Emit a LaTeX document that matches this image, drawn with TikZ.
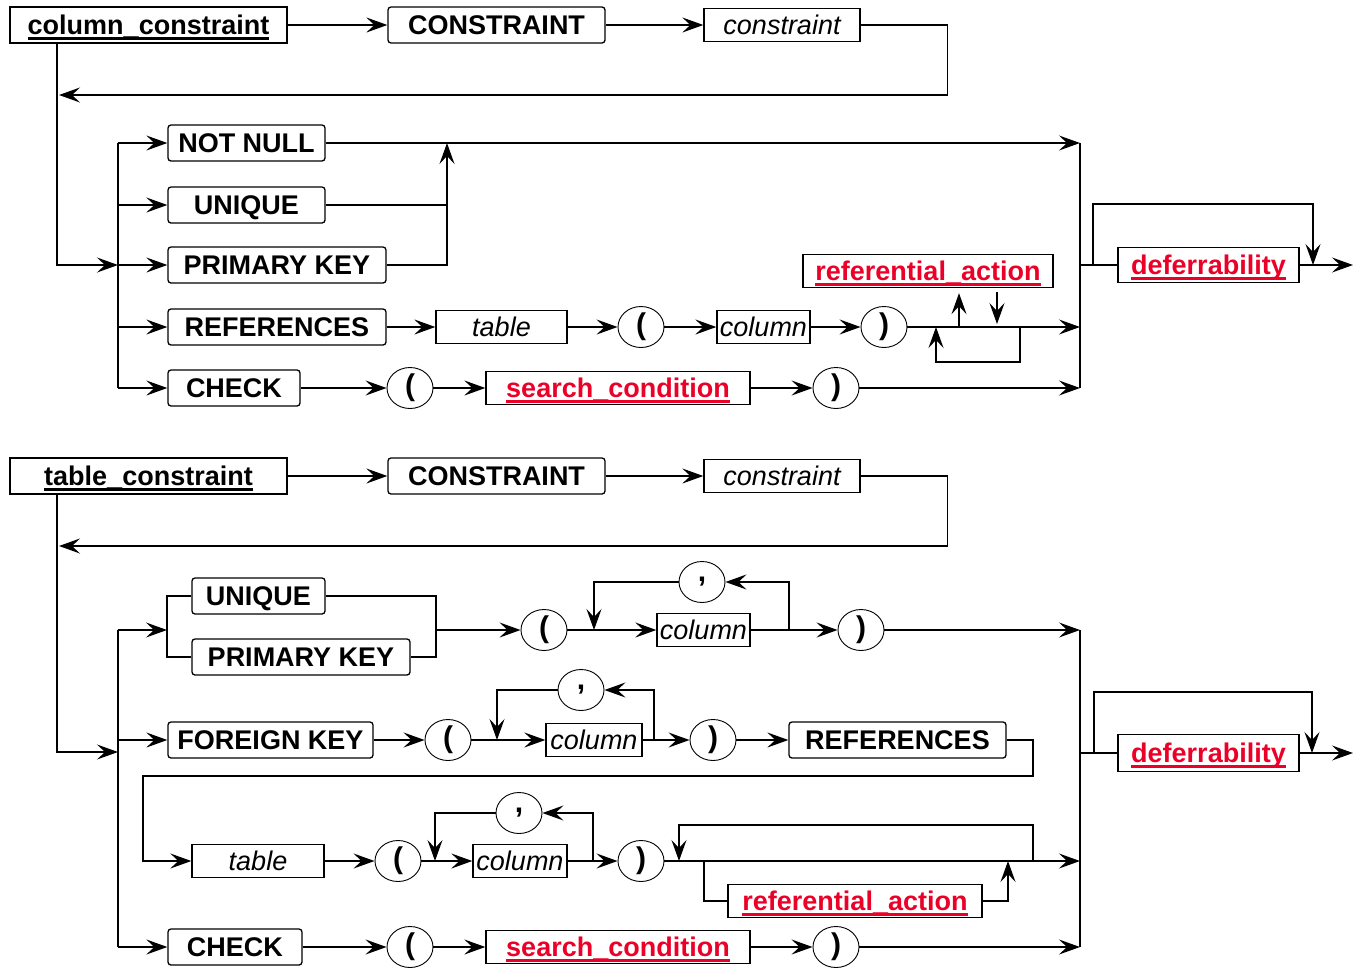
\documentclass[tikz,border=0pt]{standalone}
\usepackage{fontspec}
\setmainfont{Liberation Sans}
\usepackage{xcolor}
\usepackage{tikz}
\usetikzlibrary{arrows.meta,shapes.geometric}

\definecolor{refred}{RGB}{235,0,40}
\newcommand\synul[1]{\setbox0=\hbox{#1}\rlap{\rule[-5pt]{\wd0}{3pt}}\box0}

\begin{document}
\begin{tikzpicture}[
  x=1pt, y=-1pt, line width=1.3pt,
  kw/.style={rectangle, draw, rounded corners=3pt, font=\fontsize{27}{32}\selectfont\bfseries, text height=20pt, text depth=1pt, inner xsep=0pt, inner ysep=2pt, minimum height=36pt},
  ident/.style={rectangle, draw, font=\fontsize{27}{32}\selectfont\itshape, text height=20pt, text depth=1pt, inner xsep=0pt, inner ysep=2pt, minimum height=33pt},
  nonterm/.style={rectangle, draw, font=\fontsize{27}{32}\selectfont\bfseries, text=refred, text height=20pt, text depth=1pt, inner xsep=0pt, inner ysep=2pt, minimum height=33pt},
  head/.style={rectangle, draw, font=\fontsize{27}{32}\selectfont\bfseries, text height=20pt, text depth=1pt, inner xsep=0pt, inner ysep=2pt, minimum height=36pt},
  lit/.style={ellipse, draw, line width=0.9pt, minimum width=46pt, minimum height=41pt, inner sep=0pt, font=\fontsize{30}{32}\selectfont\bfseries},
  arr/.style={-{Stealth[length=21pt,width=15pt,inset=8pt]}}
]
\useasboundingbox (0,0) rectangle (1353,970);

% ---------------- column_constraint ----------------
\node[head, minimum width=277pt] (cc) at (148.5,25) {\synul{column\_constraint}};
\node[kw, minimum width=217pt] (ccon) at (496.5,25) {CONSTRAINT};
\node[ident, minimum width=156pt] (cname) at (782,25) {constraint};
\draw[arr] (cc) -- (ccon);
\draw[arr] (ccon) -- (cname);
\coordinate (cback) at (59,95);
\draw[arr] (cname.east) -| ++(87,70) -- (cback);

% Trunk into the branch line
\coordinate (ctop) at (57,43);
\coordinate (cjoin) at (118,265);
\draw[arr] (ctop) |- (cjoin);
\coordinate (cb1) at (118,143);
\coordinate (cb5) at (118,388);
\draw (cb1) -- (cb5);

% Alternatives
\node[kw, minimum width=157pt] (cnn) at (246.5,143) {NOT NULL};
\node[kw, minimum width=157pt] (cun) at (246.5,205) {UNIQUE};
\node[kw, minimum width=218pt] (cpk) at (277,265) {PRIMARY KEY};
\node[kw, minimum width=218pt] (cref) at (277,327) {REFERENCES};
\node[kw, minimum width=132pt] (cchk) at (234,388) {CHECK};
\foreach \n in {cnn,cun,cpk,cref,cchk}
  \draw[arr] (\n -| cb1) -- (\n);

% Collector line
\coordinate (cc1) at (1080,143);
\coordinate (cc5) at (1080,388);
\draw (cc1) -- (cc5);
\draw[arr] (cnn) -- (cnn -| cc1);

% UNIQUE / PRIMARY KEY merge
\coordinate (cmrg) at (447,143);
\draw (cun.east) -- (cun.east -| cmrg);
\draw[arr] (cpk.east) -| (cmrg);

% REFERENCES row
\node[ident, minimum width=131pt] (ctbl) at (501.5,327) {table};
\node[lit] (clp1) at (641,327) {(};
\node[ident, minimum width=93pt] (ccol) at (763.5,327) {column};
\node[lit] (crp1) at (884,327) {)};
\draw[arr] (cref) -- (ctbl);
\draw[arr] (ctbl) -- (clp1);
\draw[arr] (clp1) -- (ccol);
\draw[arr] (ccol) -- (crp1);
\draw[arr] (crp1) -- (crp1 -| cc1);
\node[nonterm, minimum width=250pt] (cra) at (928,271) {\synul{referential\_action}};
\coordinate (craup) at (959,327);
\coordinate (cradn) at (997,327);
\draw[arr, shorten >=5pt] (craup) -- (craup |- cra.south);
\draw[arr, shorten <=4pt, shorten >=3pt] (cradn |- cra.south) -- (cradn);
\coordinate (clpa) at (1020,327);
\coordinate (clpb) at (936,327);
\draw[arr] (clpa) -- ++(0,35) -| (clpb);

% CHECK row
\node[lit] (clp2) at (410,388) {(};
\node[nonterm, minimum width=264pt] (csc) at (618,388) {\synul{search\_condition}};
\node[lit] (crp2) at (836,388) {)};
\draw[arr] (cchk) -- (clp2);
\draw[arr] (clp2) -- (csc);
\draw[arr] (csc) -- (crp2);
\draw[arr] (crp2) -- (crp2 -| cc1);

% deferrability
\coordinate (cdj) at (1080,265);
\node[nonterm, minimum width=181pt, minimum height=35pt] (cdf) at (1208.5,265) {\synul{deferrability}};
\coordinate (cend) at (1353,265);
\draw (cdj) -- (cdf);
\draw[arr] (cdf) -- (cend);
\coordinate (cbyl) at (1093,265);
\coordinate (cbyr) at (1313,265);
\draw[arr] (cbyl) -- ++(0,-61) -| (cbyr);

% ---------------- table_constraint ----------------
\node[head, minimum width=277pt] (tc) at (148.5,476) {\synul{table\_constraint}};
\node[kw, minimum width=217pt] (tcon) at (496.5,476) {CONSTRAINT};
\node[ident, minimum width=156pt] (tname) at (782,476) {constraint};
\draw[arr] (tc) -- (tcon);
\draw[arr] (tcon) -- (tname);
\coordinate (tback) at (59,546);
\draw[arr] (tname.east) -| ++(87,70) -- (tback);

% Trunk into the branch line
\coordinate (ttop) at (57,494);
\coordinate (tjoin) at (118,752);
\draw[arr] (ttop) |- (tjoin);
\coordinate (tb1) at (118,630);
\coordinate (tb4) at (118,947);
\draw (tb1) -- (tb4);
\coordinate (tc1) at (1080,630);
\coordinate (tc4) at (1080,947);
\draw (tc1) -- (tc4);

% UNIQUE / PRIMARY KEY row
\coordinate (tsb) at (167,630);
\draw[arr] (tb1) -- (tsb);
\node[kw, minimum width=133pt] (tun) at (258.5,596) {UNIQUE};
\node[kw, minimum width=218pt] (tpk) at (301,657) {PRIMARY KEY};
\draw (tun.west) -| (tpk.west -| tsb) -- (tpk.west);
\coordinate (tsm) at (436,630);
\draw (tun.east) -| (tsm);
\draw (tpk.east) -| (tsm);
\node[lit] (tlp1) at (544,630) {(};
\node[ident, minimum width=93pt] (tcol1) at (703.5,630) {column};
\node[lit] (tcm1) at (702,582) {,};
\node[lit] (trp1) at (861,630) {)};
\coordinate (tj1) at (594,630);
\coordinate (tk1) at (789,630);
\draw[arr] (tsm) -- (tlp1);
\draw[arr] (tlp1) -- (tcol1);
\draw[arr] (tk1) |- (tcm1);
\draw[arr] (tcm1) -| (tj1);
\draw[arr] (tcol1) -- (trp1);
\draw[arr] (trp1) -- (tc1);

% FOREIGN KEY row
\node[kw, minimum width=205pt] (tfk) at (270.5,740) {FOREIGN KEY};
\node[lit] (tlp2) at (448,740) {(};
\node[ident, minimum width=96pt] (tcol2) at (594,740) {column};
\node[lit] (tcm2) at (581,690) {,};
\node[lit] (trp2) at (713,740) {)};
\node[kw, minimum width=217pt] (tref) at (897.5,740) {REFERENCES};
\coordinate (tj2) at (497,740);
\coordinate (tk2) at (654,740);
\draw[arr] (tfk -| tb1) -- (tfk);
\draw[arr] (tfk) -- (tlp2);
\draw[arr] (tlp2) -- (tcol2);
\draw[arr] (tk2) |- (tcm2);
\draw[arr] (tcm2) -| (tj2);
\draw[arr] (tcol2) -- (trp2);
\draw[arr] (trp2) -- (tref);

% table row (continued from REFERENCES)
\node[ident, minimum width=132pt] (ttbl) at (258,861) {table};
\coordinate (twr) at (1033,776);
\coordinate (twl) at (143,776);
\draw[arr] (tref.east) -| (twr) -- (twl) |- (ttbl);
\node[lit] (tlp3) at (398,861) {(};
\node[ident, minimum width=94pt] (tcol3) at (520,861) {column};
\node[lit] (tcm3) at (519,813) {,};
\node[lit] (trp3) at (641,861) {)};
\coordinate (tj3) at (435,861);
\coordinate (tk3) at (593,861);
\draw[arr] (ttbl) -- (tlp3);
\draw[arr] (tlp3) -- (tcol3);
\draw[arr] (tk3) |- (tcm3);
\draw[arr] (tcm3) -| (tj3);
\draw[arr] (tcol3) -- (trp3);
\draw[arr] (trp3) -- (trp3 -| tc1);
\coordinate (tla) at (1033,861);
\coordinate (tlb) at (679,861);
\draw[arr] (tla) -- ++(0,-36) -| (tlb);
\node[nonterm, minimum width=254pt] (tact) at (855,901) {\synul{referential\_action}};
\coordinate (tra) at (704,861);
\coordinate (trb) at (1008,861);
\draw (tra) |- (tact);
\draw[arr] (tact) -| (trb);

% CHECK row
\node[kw, minimum width=134pt] (tchk) at (235,947) {CHECK};
\node[lit] (tlp4) at (410,947) {(};
\node[nonterm, minimum width=264pt] (tsc) at (618,947) {\synul{search\_condition}};
\node[lit] (trp4) at (836,947) {)};
\draw[arr] (tchk -| tb1) -- (tchk);
\draw[arr] (tchk) -- (tlp4);
\draw[arr] (tlp4) -- (tsc);
\draw[arr] (tsc) -- (trp4);
\draw[arr] (trp4) -- (trp4 -| tc1);

% deferrability
\coordinate (tdj) at (1080,753);
\node[nonterm, minimum width=181pt, minimum height=37pt] (tdf) at (1208.5,753) {\synul{deferrability}};
\coordinate (tend) at (1353,753);
\draw (tdj) -- (tdf);
\draw[arr] (tdf) -- (tend);
\coordinate (tbyl) at (1094,753);
\coordinate (tbyr) at (1312,753);
\draw[arr] (tbyl) -- ++(0,-61) -| (tbyr);

\end{tikzpicture}
\end{document}
